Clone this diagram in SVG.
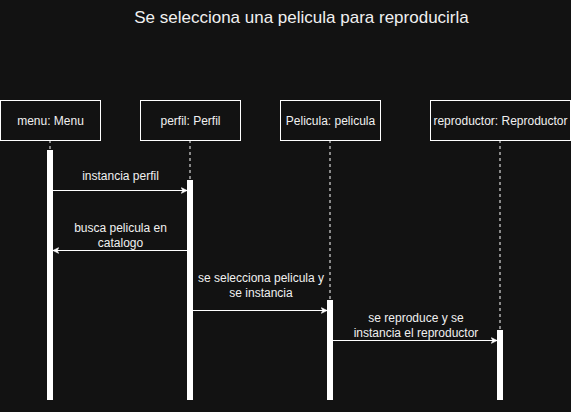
<svg xmlns="http://www.w3.org/2000/svg" width="571" height="412" viewBox="0 0 571 412">
<defs>
<style>
.box{fill:#121212;stroke:#ffffff;stroke-width:1}
.lbl{font-family:"Liberation Sans",Arial,sans-serif;font-size:12px;fill:#f0f0f0;text-anchor:middle}
.life{stroke:#ffffff;stroke-width:1;stroke-dasharray:3 3;fill:none}
.act{fill:#ffffff;stroke:none}
.msg{stroke:#ffffff;stroke-width:1;fill:none;marker-end:url(#arr)}
</style>
<marker id="arr" viewBox="0 0 10 10" refX="9" refY="5" markerWidth="7" markerHeight="7" markerUnits="userSpaceOnUse" orient="auto">
<path d="M1,1 L9,5 L1,9 L3,5 Z" fill="#ffffff" stroke="#ffffff" stroke-width="1"/>
</marker>
</defs>
<rect x="0" y="0" width="571" height="412" fill="#121212"/>
<text x="301.5" y="23" font-family="'Liberation Sans',Arial,sans-serif" font-size="17" fill="#f0f0f0" text-anchor="middle">Se selecciona una pelicula para reproducirla</text>
<g id="lifelines">
<line class="life" x1="50" y1="140" x2="50" y2="150"/>
<line class="life" x1="190" y1="140" x2="190" y2="180"/>
<line class="life" x1="330" y1="140" x2="330" y2="300"/>
<line class="life" x1="500" y1="140" x2="500" y2="330"/>
</g>
<g id="menu">
<rect class="box" x="0.5" y="100.5" width="100" height="40"/>
<text class="lbl" x="50.5" y="125">menu: Menu</text>
<rect class="act" x="47" y="150" width="6" height="250"/>
</g>
<g id="perfil">
<rect class="box" x="140.5" y="100.5" width="100" height="40"/>
<text class="lbl" x="190.5" y="125">perfil: Perfil</text>
<rect class="act" x="187" y="180" width="6" height="220"/>
</g>
<g id="pelicula">
<rect class="box" x="280.5" y="100.5" width="100" height="40"/>
<text class="lbl" x="330.5" y="125">Pelicula: pelicula</text>
<rect class="act" x="327" y="300" width="6" height="100"/>
</g>
<g id="reproductor">
<rect class="box" x="430.5" y="100.5" width="140" height="40"/>
<text class="lbl" x="500.5" y="125">reproductor: Reproductor</text>
<rect class="act" x="497" y="330" width="6" height="70"/>
</g>
<g id="connectors">
<line class="msg" x1="53" y1="190.5" x2="187" y2="190.5"/>
<text class="lbl" x="120.5" y="180">instancia perfil</text>
<line class="msg" x1="187" y1="250.5" x2="53" y2="250.5"/>
<text class="lbl" x="120.5" y="232">busca pelicula en</text>
<text class="lbl" x="120.5" y="247">catalogo</text>
<line class="msg" x1="193" y1="310.5" x2="327" y2="310.5"/>
<text class="lbl" x="261" y="282">se selecciona pelicula y</text>
<text class="lbl" x="261" y="297">se instancia</text>
<line class="msg" x1="333" y1="340.5" x2="497" y2="340.5"/>
<text class="lbl" x="416" y="322">se reproduce y se</text>
<text class="lbl" x="416" y="337">instancia el reproductor</text>
</g>
</svg>
